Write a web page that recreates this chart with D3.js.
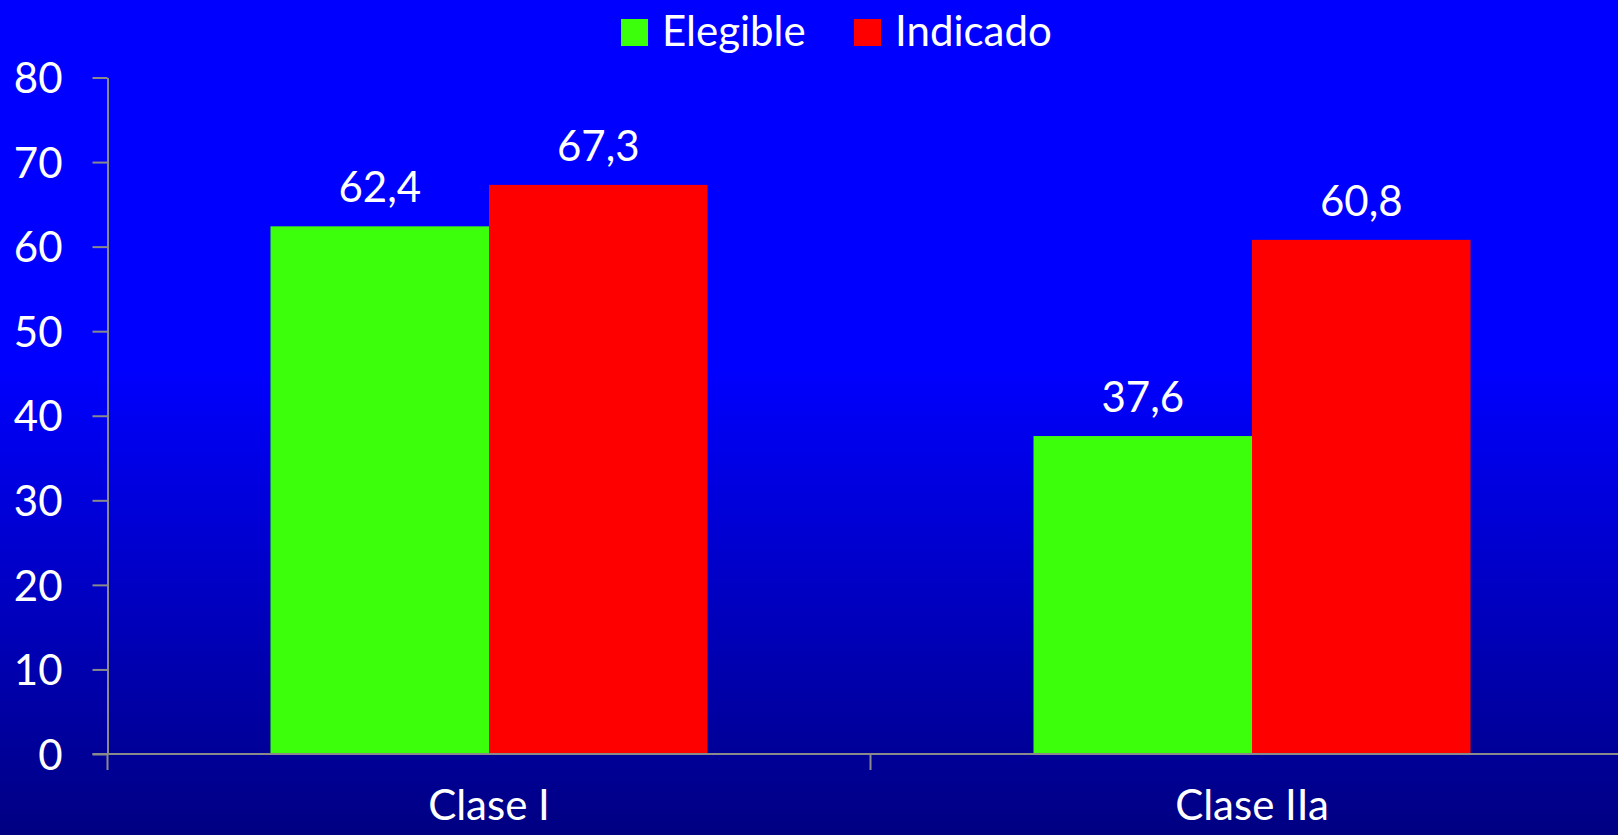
<!DOCTYPE html>
<html>
<head>
<meta charset="utf-8">
<script src="https://cdn.jsdelivr.net/npm/d3@7"></script>
<style>
  html, body { margin: 0; padding: 0; background: #000080; overflow: hidden; }
  svg { display: block; }
  text { font-family: Lato, "Open Sans", sans-serif; fill: #ffffff; }
</style>
</head>
<body>
<svg id="chart" width="1618" height="835"></svg>
<script>
// Data
const categories = ["Clase I", "Clase IIa"];
const seriesNames = ["Elegible", "Indicado"];
const elegible = [62.4, 37.6];
const indicado = [67.3, 60.8];
const yTicks = [0, 10, 20, 30, 40, 50, 60, 70, 80];
const seriesColors = ["#3cff0c", "#ff0000"];

const values = [elegible, indicado];
const rows = categories.map((c, i) => ({
  category: c,
  items: seriesNames.map((s, j) => ({ series: s, value: values[j][i], color: seriesColors[j] }))
}));

const W = 1618, H = 835;
const svg = d3.select("#chart");

// Background: bright blue top fading to navy at the bottom
const defs = svg.append("defs");
const grad = defs.append("linearGradient")
  .attr("id", "bg").attr("x1", 0).attr("y1", 0).attr("x2", 0).attr("y2", 1);
grad.append("stop").attr("offset", "0%").attr("stop-color", "#0000ff");
grad.append("stop").attr("offset", "44%").attr("stop-color", "#0000ff");
grad.append("stop").attr("offset", "100%").attr("stop-color", "#000082");
svg.append("rect").attr("width", W).attr("height", H).attr("fill", "url(#bg)");

// Scales
const axisX = 107.5;
const catStep = 763;
const x0 = d3.scaleBand().domain(categories).range([axisX, axisX + catStep * categories.length]).padding(0);
const x1 = d3.scaleBand().domain(seriesNames).range([0, x0.bandwidth()]).paddingInner(0).paddingOuter(0.746);
const y = d3.scaleLinear().domain([0, 80]).range([754, 77.5]);

const axisColor = "#8a8a8a";
const fontSize = 42;

// Bars
const groups = svg.append("g").selectAll("g")
  .data(rows).join("g")
  .attr("transform", d => `translate(${x0(d.category)},0)`);

groups.selectAll("rect")
  .data(d => d.items).join("rect")
  .attr("x", d => x1(d.series))
  .attr("y", d => y(d.value))
  .attr("width", x1.bandwidth())
  .attr("height", d => y(0) - y(d.value))
  .attr("fill", d => d.color);

// Value labels
const fmt = v => d3.format(".1f")(v).replace(".", ",");
groups.selectAll("text.val")
  .data(d => d.items).join("text")
  .attr("class", "val")
  .attr("x", d => x1(d.series) + x1.bandwidth() / 2)
  .attr("y", d => y(d.value) - 24)
  .attr("text-anchor", "middle")
  .attr("font-size", fontSize)
  .text(d => fmt(d.value));

// Y axis
const yAxis = svg.append("g")
  .attr("transform", `translate(${axisX},0)`)
  .call(d3.axisLeft(y).tickValues(yTicks).tickSize(15).tickPadding(30).tickSizeOuter(0));
yAxis.select(".domain").attr("stroke", axisColor).attr("stroke-width", 2);
yAxis.selectAll(".tick line").attr("stroke", axisColor).attr("stroke-width", 2);
yAxis.selectAll(".tick text")
  .attr("font-size", fontSize)
  .attr("font-family", "Lato, 'Open Sans', sans-serif")
  .attr("fill", "#ffffff")
  .attr("dy", "0.36em");

// X axis: baseline with tick marks at category boundaries
const xAxis = svg.append("g").attr("transform", `translate(0,${y(0)})`);
xAxis.append("line")
  .attr("x1", axisX - 15).attr("x2", W)
  .attr("y1", 0).attr("y2", 0)
  .attr("stroke", axisColor).attr("stroke-width", 2);
xAxis.selectAll("line.bound")
  .data(categories).join("line")
  .attr("class", "bound")
  .attr("x1", d => x0(d)).attr("x2", d => x0(d))
  .attr("y1", 0).attr("y2", 16)
  .attr("stroke", axisColor).attr("stroke-width", 2);
xAxis.selectAll("text.cat")
  .data(categories).join("text")
  .attr("class", "cat")
  .attr("x", d => x0(d) + x0.bandwidth() / 2)
  .attr("y", 66)
  .attr("text-anchor", "middle")
  .attr("font-size", fontSize)
  .text(d => d);

// Legend
const legendX = [621, 854];
const legend = svg.append("g").selectAll("g")
  .data(seriesNames).join("g")
  .attr("transform", (d, i) => `translate(${legendX[i]},19)`);
legend.append("rect")
  .attr("width", 27).attr("height", 27)
  .attr("fill", (d, i) => seriesColors[i]);
legend.append("text")
  .attr("x", 41).attr("y", 27)
  .attr("font-size", fontSize)
  .text(d => d);
</script>
</body>
</html>
